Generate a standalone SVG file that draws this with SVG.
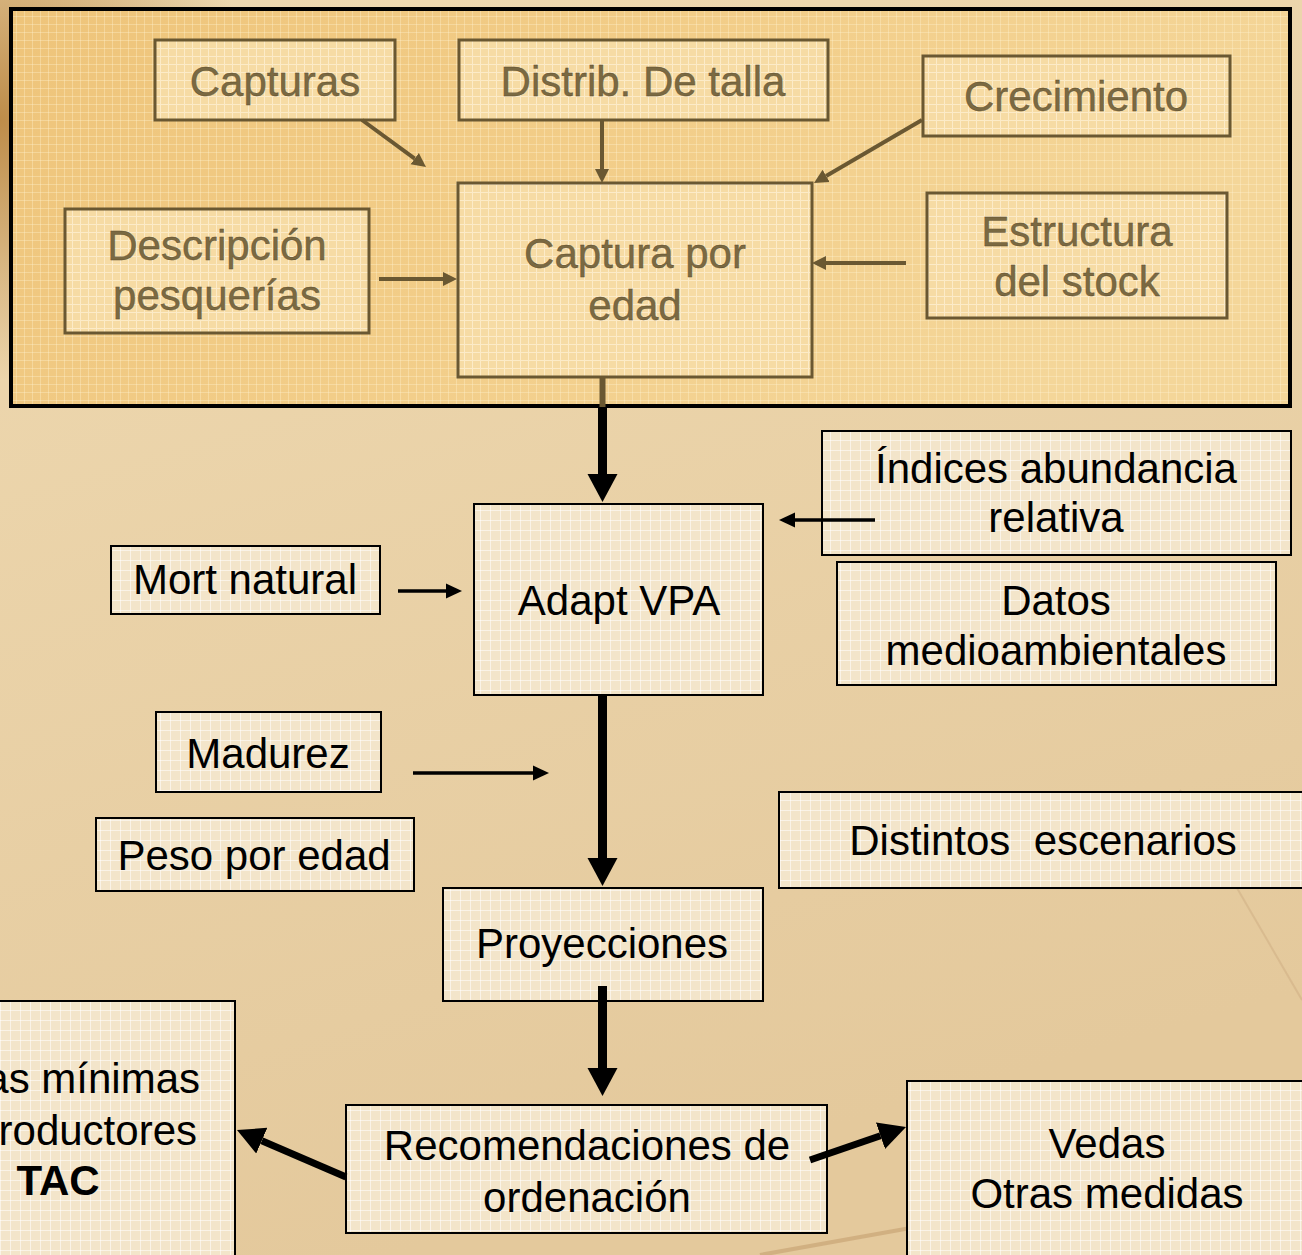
<svg xmlns="http://www.w3.org/2000/svg" width="1302" height="1255" viewBox="0 0 1302 1255">
<defs>
  <linearGradient id="bg" x1="0" y1="0" x2="0.3" y2="1">
    <stop offset="0" stop-color="#EFDAB2"/>
    <stop offset="1" stop-color="#E4C99C"/>
  </linearGradient>
  <radialGradient id="tl" cx="0" cy="120" r="260" gradientUnits="userSpaceOnUse">
    <stop offset="0" stop-color="#B8843E" stop-opacity="0.9"/>
    <stop offset="1" stop-color="#B8843E" stop-opacity="0"/>
  </radialGradient>
  <linearGradient id="panelg" x1="0" y1="0" x2="1" y2="0.3">
    <stop offset="0" stop-color="#EEC47A"/>
    <stop offset="0.5" stop-color="#F2CD88"/>
    <stop offset="1" stop-color="#F4D699"/>
  </linearGradient>
  <pattern id="ovgrid" width="8" height="8" patternUnits="userSpaceOnUse">
    <path d="M0 0.5 H8 M0.5 0 V8" stroke="#FFF2D0" stroke-opacity="0.35" stroke-width="1" fill="none"/>
  </pattern>
  <pattern id="pgrid" width="8" height="8" patternUnits="userSpaceOnUse">
    <rect width="8" height="8" fill="#F6DBA4"/>
    <path d="M0 0.5 H8 M0.5 0 V8" stroke="#FCEBC8" stroke-width="1" fill="none"/>
  </pattern>
  <pattern id="lgrid" width="10" height="10" patternUnits="userSpaceOnUse">
    <rect width="10" height="10" fill="#F3E5CA"/>
    <path d="M0 0.5 H10 M0.5 0 V10" stroke="#FFFFFF" stroke-opacity="0.55" stroke-width="1" fill="none"/>
  </pattern>
  <marker id="ph" markerUnits="userSpaceOnUse" markerWidth="16" markerHeight="16" refX="0" refY="8" orient="auto">
    <path d="M0,1 L14,8 L0,15 z" fill="#6a5832"/>
  </marker>
  <marker id="big" markerUnits="userSpaceOnUse" markerWidth="30" markerHeight="32" refX="0" refY="16" orient="auto">
    <path d="M0,1 L28,16 L0,31 z" fill="#000"/>
  </marker>
  <marker id="thin" markerUnits="userSpaceOnUse" markerWidth="18" markerHeight="18" refX="0" refY="8" orient="auto">
    <path d="M0,0.5 L16,8 L0,15.5 z" fill="#000"/>
  </marker>
  <marker id="diag" markerUnits="userSpaceOnUse" markerWidth="30" markerHeight="32" refX="0" refY="15" orient="auto">
    <path d="M0,1 L27,15 L0,29 z" fill="#000"/>
  </marker>
</defs>
<style>
  .pt { font-family: "Liberation Sans", Arial, sans-serif; font-size: 42px; fill: #7a6942; stroke: #5a4a28; stroke-width: 0.35; text-anchor: middle; }
  .t { font-family: "Liberation Sans", Arial, sans-serif; font-size: 42px; fill: #000; text-anchor: middle; }
  .pbox { fill: url(#pgrid); stroke: #6a5832; stroke-width: 3; }
  .box { fill: url(#lgrid); stroke: #000; stroke-width: 2; }
  .pc { stroke: #6a5832; stroke-width: 4; fill: none; marker-end: url(#ph); }
  .cbig { stroke: #000; stroke-width: 9; fill: none; marker-end: url(#big); }
  .cthin { stroke: #000; stroke-width: 3.5; fill: none; marker-end: url(#thin); }
  .cdiag { stroke: #000; stroke-width: 7; fill: none; marker-end: url(#diag); }
</style>

<!-- background -->
<rect x="0" y="0" width="1302" height="1255" fill="url(#bg)"/>
<rect x="0" y="0" width="1302" height="1255" fill="url(#tl)"/>
<path d="M760,1255 L1302,1158" stroke="#B08050" stroke-opacity="0.35" stroke-width="4" fill="none"/>
<path d="M1180,790 L1302,1000" stroke="#B89068" stroke-opacity="0.25" stroke-width="2" fill="none"/>

<!-- top panel -->
<g id="panel">
  <rect x="11" y="9" width="1279" height="397" fill="url(#panelg)"/>
  <rect x="11" y="9" width="1279" height="397" fill="url(#ovgrid)" stroke="#000" stroke-width="4"/>
</g>

<g id="capturas">
  <rect class="pbox" x="155" y="40" width="240" height="80"/>
  <text class="pt" x="275" y="96">Capturas</text>
</g>
<g id="distrib">
  <rect class="pbox" x="459" y="40" width="369" height="80"/>
  <text class="pt" x="643" y="96">Distrib. De talla</text>
</g>
<g id="crecimiento">
  <rect class="pbox" x="923" y="56" width="307" height="80"/>
  <text class="pt" x="1076" y="111">Crecimiento</text>
</g>
<g id="descripcion">
  <rect class="pbox" x="65" y="209" width="304" height="124"/>
  <text class="pt" x="217" y="260">Descripción</text>
  <text class="pt" x="217" y="310">pesquerías</text>
</g>
<g id="captura-edad">
  <rect class="pbox" x="458" y="183" width="354" height="194" stroke-width="4"/>
  <text class="pt" x="635" y="268">Captura por</text>
  <text class="pt" x="635" y="320">edad</text>
</g>
<g id="estructura">
  <rect class="pbox" x="927" y="193" width="300" height="125"/>
  <text class="pt" x="1077" y="246">Estructura</text>
  <text class="pt" x="1077" y="296">del stock</text>
</g>

<g id="adapt-vpa">
  <rect class="box" x="474" y="504" width="289" height="191" stroke-width="4"/>
  <text class="t" x="619" y="615">Adapt VPA</text>
</g>
<g id="indices">
  <rect class="box" x="822" y="431" width="469" height="124"/>
  <text class="t" x="1056" y="483">Índices abundancia</text>
  <text class="t" x="1056" y="532">relativa</text>
</g>
<g id="datos">
  <rect class="box" x="837" y="562" width="439" height="123"/>
  <text class="t" x="1056" y="615">Datos</text>
  <text class="t" x="1056" y="665">medioambientales</text>
</g>
<g id="mort-natural">
  <rect class="box" x="111" y="546" width="269" height="68"/>
  <text class="t" x="245" y="594">Mort natural</text>
</g>
<g id="madurez">
  <rect class="box" x="156" y="712" width="225" height="80"/>
  <text class="t" x="268" y="768">Madurez</text>
</g>
<g id="peso-edad">
  <rect class="box" x="96" y="818" width="318" height="73"/>
  <text class="t" x="254" y="870">Peso por edad</text>
</g>
<g id="escenarios">
  <rect class="box" x="779" y="792" width="540" height="96"/>
  <text class="t" x="1043" y="855" xml:space="preserve" style="white-space:pre">Distintos  escenarios</text>
</g>
<g id="proyecciones">
  <rect class="box" x="443" y="888" width="320" height="113" stroke-width="3.5"/>
  <text class="t" x="602" y="958">Proyecciones</text>
</g>
<g id="recomendaciones">
  <rect class="box" x="346" y="1105" width="481" height="128" stroke-width="3.5"/>
  <text class="t" x="587" y="1160">Recomendaciones de</text>
  <text class="t" x="587" y="1212">ordenación</text>
</g>
<g id="tallas-tac">
  <rect class="box" x="-10" y="1001" width="245" height="270"/>
  <text class="t" x="200" y="1093" style="text-anchor:end">as mínimas</text>
  <text class="t" x="197" y="1145" style="text-anchor:end">roductores</text>
  <text class="t" x="58" y="1195" style="font-weight:bold">TAC</text>
</g>
<g id="vedas">
  <rect class="box" x="907" y="1081" width="420" height="200" stroke-width="2.5"/>
  <text class="t" x="1107" y="1158">Vedas</text>
  <text class="t" x="1107" y="1208">Otras medidas</text>
</g>

<g id="connectors">
  <line class="pc" x1="362" y1="120" x2="414.7" y2="158.7"/>
  <line class="pc" x1="602" y1="120" x2="602" y2="169"/>
  <line class="pc" x1="922" y1="120" x2="826.1" y2="175.9"/>
  <line class="pc" x1="906" y1="263" x2="826" y2="263"/>
  <line class="pc" x1="379" y1="279" x2="443" y2="279"/>
  <rect x="599.5" y="377" width="6" height="30" fill="#6a5832"/>
  <line class="cbig" x1="602.5" y1="407" x2="602.5" y2="474"/>
  <line class="cbig" x1="602.5" y1="695" x2="602.5" y2="858"/>
  <line class="cbig" x1="602.5" y1="986" x2="602.5" y2="1068"/>
  <line class="cthin" x1="875" y1="520" x2="795" y2="520"/>
  <line class="cthin" x1="398" y1="591" x2="446" y2="591"/>
  <line class="cthin" x1="413" y1="773" x2="533" y2="773"/>
  <line class="cdiag" x1="346" y1="1177" x2="261.8" y2="1140.7"/>
  <line class="cdiag" x1="810" y1="1160" x2="880.5" y2="1135.8"/>
</g>
</svg>
